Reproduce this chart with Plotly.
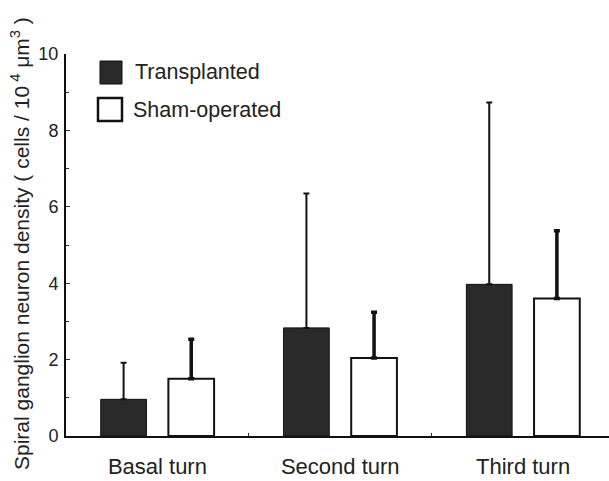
import plotly.graph_objects as go

categories = ["Basal turn", "Second turn", "Third turn"]
transplanted = [0.96, 2.83, 3.97]
transplanted_err = [0.96, 3.52, 4.76]
sham = [1.50, 2.04, 3.60]
sham_err = [1.03, 1.20, 1.77]
y_ticks = [0, 2, 4, 6, 8, 10]

FONT = "Liberation Sans, Arial, sans-serif"
L, T, B, W, H = 66, 54, 45, 609, 481
PW, PH = W - L, H - T - B

def px(x):
    return (x - L) / PW

def py(y):
    return (H - B - y) / PH

fig = go.Figure()
fig.add_trace(go.Bar(
    x=categories, y=transplanted, name="Transplanted",
    width=0.25, offset=-0.31,
    marker=dict(color="#2a2a2a", line=dict(color="#111", width=1)),
    error_y=dict(type="data", array=transplanted_err, arrayminus=[0] * 3,
                 symmetric=False, color="#111", thickness=2, width=3),
    showlegend=False,
))
fig.add_trace(go.Bar(
    x=categories, y=sham, name="Sham-operated",
    width=0.25, offset=0.06,
    marker=dict(color="white", line=dict(color="#111", width=2)),
    error_y=dict(type="data", array=sham_err, arrayminus=[0] * 3,
                 symmetric=False, color="#111", thickness=3.5, width=3),
    showlegend=False,
))

# custom legend
fig.add_shape(type="rect", xref="paper", yref="paper",
              x0=px(100), x1=px(122), y0=py(84), y1=py(61),
              fillcolor="#2a2a2a", line=dict(color="#111", width=1))
fig.add_shape(type="rect", xref="paper", yref="paper",
              x0=px(98), x1=px(122), y0=py(121), y1=py(98),
              fillcolor="white", line=dict(color="#111", width=2.5))
fig.add_annotation(xref="paper", yref="paper", x=px(133), y=py(72),
                   text="Transplanted", showarrow=False, xanchor="left", yanchor="middle",
                   font=dict(family=FONT, size=21.5, color="#222"))
fig.add_annotation(xref="paper", yref="paper", x=px(131), y=py(110),
                   text="Sham-operated", showarrow=False, xanchor="left", yanchor="middle",
                   font=dict(family=FONT, size=21.5, color="#222"))
# y-axis title
fig.add_annotation(xref="paper", yref="paper", x=px(20), y=py(244),
                   text="Spiral ganglion neuron density ( cells / 10<sup> 4</sup> μm<sup>3</sup> )",
                   textangle=-90, showarrow=False, xanchor="center", yanchor="middle",
                   font=dict(family=FONT, size=21, color="#222"))

fig.update_layout(
    width=W, height=H,
    margin=dict(l=L, r=0, t=T, b=B, autoexpand=False),
    paper_bgcolor="white", plot_bgcolor="white",
    barmode="overlay",
    font=dict(family=FONT, size=13, color="#222"),
)
fig.update_xaxes(
    range=[-0.5, 2.47], showline=True, linecolor="#111", linewidth=2,
    ticks="inside", tickson="boundaries", ticklen=3, tickcolor="#333",
    tickfont=dict(size=22, family=FONT, color="#222"), ticklabelstandoff=10,
    showgrid=False, zeroline=False, automargin=False,
)
fig.update_yaxes(
    range=[0, 10], tickvals=y_ticks, showline=True, linecolor="#111", linewidth=2,
    ticks="inside", ticklen=4, tickcolor="#333",
    minor=dict(ticks="inside", dtick=1, ticklen=3, tickcolor="#333"),
    tickfont=dict(size=18, family=FONT, color="#222"), ticklabelstandoff=2,
    showgrid=False, zeroline=False, automargin=False,
)

fig.write_html("out.html", config={"displayModeBar": False},
               post_script="document.body.style.margin='0';")
